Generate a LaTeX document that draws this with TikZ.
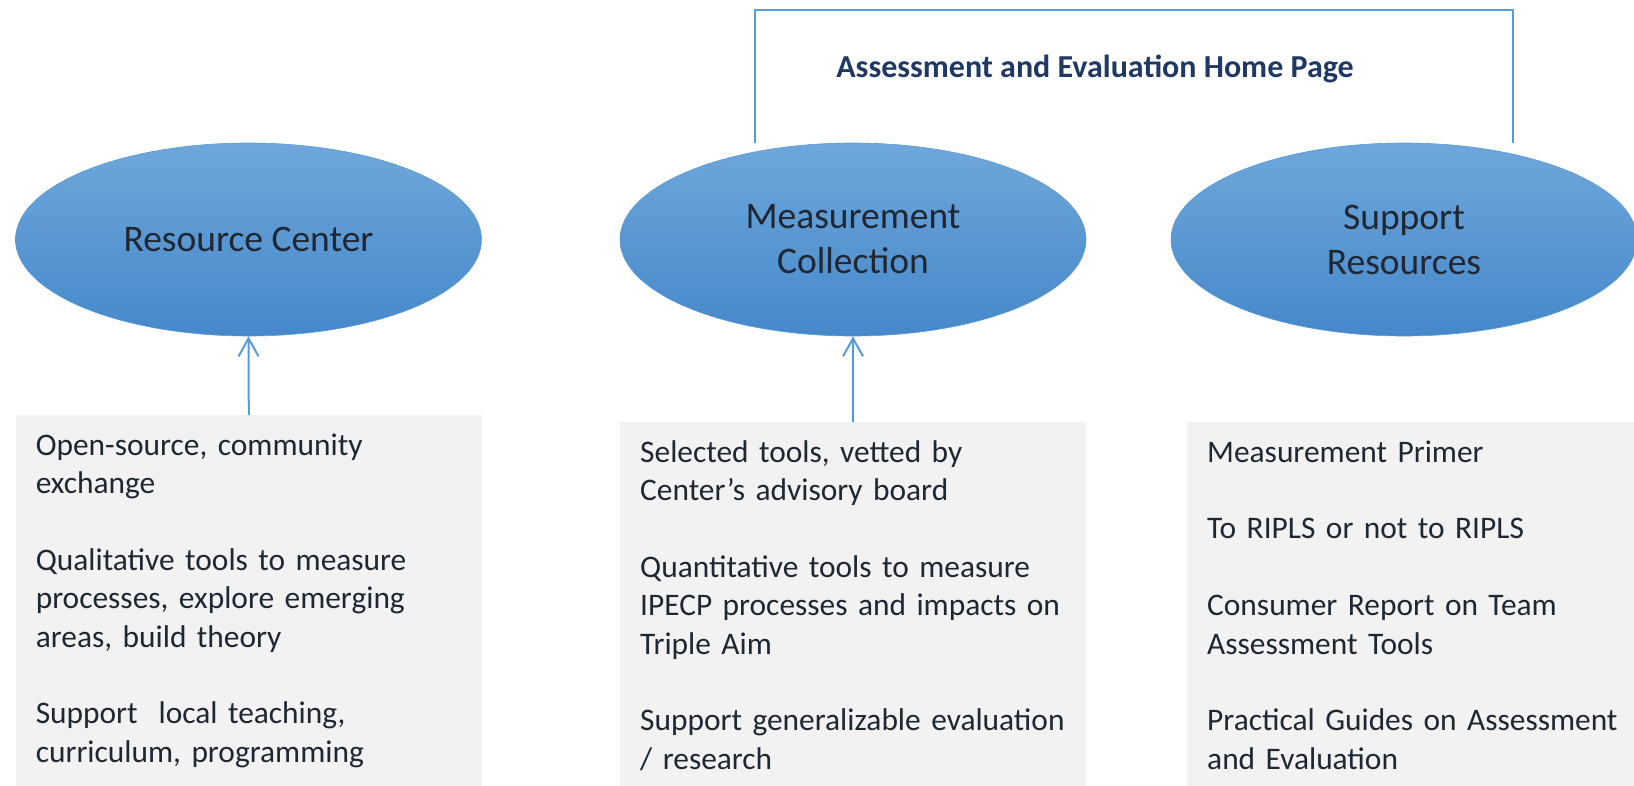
\documentclass[tikz,border=0pt]{standalone}
\usepackage{fontspec}
\setmainfont{Carlito}
\usetikzlibrary{shapes.geometric,arrows.meta,positioning}
\definecolor{linkblue}{HTML}{5B9BD5}
\definecolor{bubbletop}{HTML}{6FA7DB}
\definecolor{bubblebot}{HTML}{4588CA}
\definecolor{panelgrey}{HTML}{F2F2F2}
\definecolor{inktext}{HTML}{1F2733}
\definecolor{titlenavy}{HTML}{1F3864}

\begin{document}
\begin{tikzpicture}[
    x=1pt, y=-1pt,
    bubble/.style={ellipse, minimum width=466pt, minimum height=193pt, inner sep=0pt,
      top color=bubbletop, bottom color=bubblebot, draw=linkblue, line width=0.6pt,
      text=inktext, align=center, font=\fontsize{37.5}{45}\selectfont},
    panel/.style={rectangle, fill=panelgrey, anchor=north west,
      minimum width=466pt, minimum height=375pt, inner sep=0pt},
    blurb/.style={anchor=base west, text width=445pt, align=left, inner sep=0pt,
      text=inktext, font=\fontsize{31.4}{38.4}\selectfont},
    link/.style={linkblue, line width=2pt},
    feed/.style={link, -{Straight Barb[length=18pt,width=20pt]}}
    ]
    \useasboundingbox (0,0) rectangle (1634,785);
    \clip (0,0) rectangle (1634,785);

    \node[bubble] (rc) at (248.5,239.5) {Resource Center};
    \node[bubble] (mc) at (853,239.5) {Measurement\\Collection};
    \node[bubble] (sr) at (1404,239.5) {Support\\Resources};

    \node[font=\bfseries\fontsize{32}{38}\selectfont, text=titlenavy, anchor=base, inner sep=0pt]
      (home) at (1095,77) {Assessment and Evaluation Home Page};
    \coordinate (hl) at (755,143);
    \coordinate (hr) at (1513,143);
    \draw[link] (hl) -- (hl |- 0,10) -- (hr |- 0,10) -- (hr);

    \node[panel] (p1) at (15.6,415) {};
    \node[panel] (p2) at (620,422) {};
    \node[panel] (p3) at (1187,422) {};

    \node[blurb] (t1) at ([xshift=20pt,yshift=-40pt]p1.north west)
      {Open-source, community\\exchange\\[38.4pt]
       Qualitative tools to measure\\processes, explore emerging\\areas, build theory\\[38.4pt]
       Support~ local teaching,\\curriculum, programming};
    \node[blurb] (t2) at ([xshift=20pt,yshift=-40pt]p2.north west)
      {Selected tools, vetted by\\Center’s advisory board\\[38.4pt]
       Quantitative tools to measure\\IPECP processes and impacts on\\Triple Aim\\[38.4pt]
       Support generalizable evaluation\\/ research};
    \node[blurb] (t3) at ([xshift=20pt,yshift=-40pt]p3.north west)
      {Measurement Primer\\[38.4pt]
       To RIPLS or not to RIPLS\\[38.4pt]
       Consumer Report on Team\\Assessment Tools\\[38.4pt]
       Practical Guides on Assessment\\and Evaluation};

    \draw[feed] (p1.north) -- (rc.south);
    \draw[feed] (p2.north) -- (mc.south);
  \end{tikzpicture}
\end{document}
